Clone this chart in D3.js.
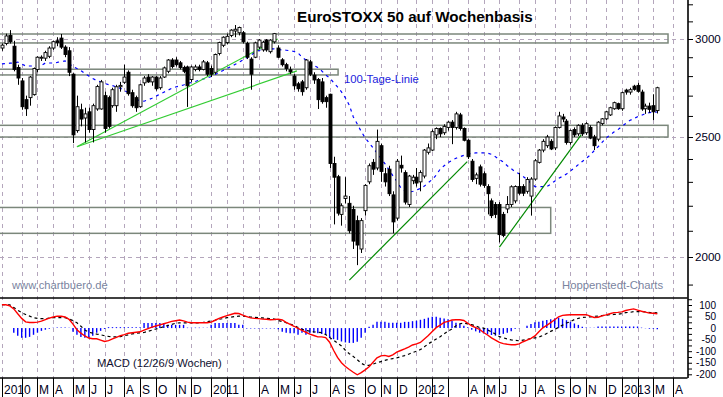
<!DOCTYPE html>
<html>
<head>
<meta charset="utf-8">
<script src="https://d3js.org/d3.v7.min.js"></script>
<style>
  body { margin: 0; background: #fff; }
  #chart { width: 723px; height: 397px; }
  text { font-family: "Liberation Sans", Arial, sans-serif; }
</style>
</head>
<body>
<div id="chart"></div>
<script>
// Weekly candles, first week starts Monday 28 Dec 2009
var firstWeek = "2009-12-28";

var open = [2950,2975,3020,2960,2845,2775,2680,2690,2705,2835,2895,2895,2905,2950,2990,3005,2955,2935,2810,2530,
  2630,2590,2620,2535,2634,2634,2700,2690,2650,2650,2745,2768,2820,2715,2690,2645,2765,2795,2770,2795,
  2740,2795,2825,2885,2885,2870,2845,2848,2782,2835,2848,2835,2870,2840,2820,2920,2965,2980,3020,3045,
  3035,3035,2975,2890,2900,2955,2940,2994,2930,2984,2950,2886,2860,2833,2800,2760,2770,2740,2875,2805,
  2782,2770,2690,2707,2380,2322,2165,2230,2210,2185,2140,2030,2180,2300,2385,2360,2460,2335,2355,2245,
  2150,2372,2340,2205,2305,2320,2300,2325,2430,2440,2510,2540,2520,2545,2570,2545,2605,2540,2485,2390,
  2315,2365,2335,2280,2220,2205,2205,2165,2187,2205,2220,2280,2280,2260,2240,2312,2385,2440,2460,2480,
  2450,2545,2595,2575,2475,2535,2515,2555,2520,2545,2500,2490,2563,2586,2605,2635,2660,2635,2728,2718,
  2748,2752,2718,2635,2648,2650,2626];
var high = [2975,3030,3050,2990,2860,2790,2700,2800,2845,2905,2910,2935,2960,2990,3010,3028,2965,2955,2815,2700,
  2660,2640,2640,2660,2755,2780,2720,2700,2740,2755,2770,2860,2830,2730,2700,2760,2800,2810,2800,2800,
  2800,2850,2890,2895,2900,2880,2855,2855,2855,2860,2860,2885,2880,2855,2920,2985,3015,3030,3055,3079,
  3070,3045,2985,2900,2985,3000,2990,3000,2999,3034,2965,2895,2870,2850,2810,2770,2780,2890,2885,2820,
  2790,2790,2700,2710,2410,2330,2210,2320,2240,2200,2160,2150,2290,2380,2400,2535,2470,2360,2370,2260,
  2400,2415,2350,2330,2330,2360,2350,2445,2470,2535,2545,2545,2560,2575,2580,2620,2615,2545,2490,2400,
  2340,2375,2345,2290,2230,2215,2215,2175,2240,2285,2285,2340,2290,2320,2320,2400,2445,2490,2510,2490,
  2550,2620,2610,2585,2535,2545,2560,2565,2570,2555,2510,2575,2590,2625,2645,2670,2665,2720,2735,2740,
  2755,2765,2730,2660,2665,2707,2745];
var low = [2935,2965,2975,2825,2755,2630,2600,2650,2700,2820,2880,2880,2895,2940,2960,2945,2900,2800,2472,2520,
  2550,2475,2520,2475,2625,2630,2520,2540,2640,2620,2720,2760,2700,2640,2620,2640,2750,2765,2750,2725,
  2730,2790,2815,2840,2850,2835,2815,2644,2770,2825,2825,2830,2800,2795,2810,2910,2955,2970,3010,3010,
  3020,2975,2890,2730,2895,2945,2930,2930,2920,2975,2895,2850,2825,2810,2730,2720,2700,2730,2800,2760,
  2634,2660,2640,2360,2125,2160,2120,2210,2090,2030,1970,2015,2160,2290,2330,2350,2300,2280,2240,2090,
  2140,2340,2205,2195,2290,2280,2260,2315,2420,2435,2490,2500,2510,2530,2467,2535,2530,2480,2400,2300,
  2290,2280,2275,2165,2150,2150,2055,2075,2170,2195,2210,2245,2240,2250,2160,2305,2380,2430,2450,2440,
  2440,2540,2570,2465,2465,2500,2505,2505,2510,2490,2440,2480,2555,2580,2600,2630,2630,2625,2705,2705,
  2725,2715,2625,2610,2615,2580,2612];
var close = [2966,3017,2985,2835,2790,2645,2635,2795,2840,2900,2900,2925,2950,2985,2980,2955,2915,2820,2510,2645,
  2585,2610,2535,2650,2746,2770,2540,2550,2730,2745,2752,2795,2710,2650,2640,2755,2790,2770,2795,2735,
  2790,2843,2885,2850,2860,2845,2825,2750,2848,2848,2835,2875,2810,2810,2915,2980,3010,3015,3050,3055,
  3065,2985,2900,2810,2978,2994,2982,2940,2994,3030,2900,2860,2840,2822,2750,2735,2720,2885,2810,2780,
  2680,2670,2670,2380,2320,2170,2200,2240,2100,2060,2045,2140,2285,2370,2355,2480,2345,2300,2250,2135,
  2390,2360,2215,2325,2320,2295,2340,2440,2450,2525,2540,2515,2550,2570,2545,2610,2540,2485,2410,2310,
  2330,2290,2285,2250,2160,2165,2085,2082,2205,2279,2280,2252,2252,2310,2312,2392,2440,2480,2500,2445,
  2545,2600,2585,2475,2530,2510,2555,2515,2563,2495,2460,2570,2586,2620,2640,2665,2635,2715,2718,2730,
  2732,2722,2634,2648,2632,2620,2740];

// 100-Tage-Linie (about 20 weeks)
var ma100 = [2864,2866,2868,2869,2874,2864,2853,2853,2853,2853,2856,2869,2869,2869,2872,2877,2880,2866,2850,2840,
  2829,2813,2800,2787,2777,2770,2762,2756,2751,2744,2737,2726,2714,2699,2682,2674,2672,2679,2687,2697,
  2707,2717,2727,2737,2744,2749,2754,2762,2767,2772,2780,2785,2790,2798,2808,2819,2829,2840,2850,2861,
  2872,2885,2897,2910,2926,2936,2945,2945,2945,2945,2942,2940,2938,2935,2931,2923,2901,2885,2869,2856,
  2845,2827,2806,2791,2767,2744,2719,2689,2652,2595,2561,2526,2496,2473,2450,2427,2403,2379,2353,2327,
  2303,2276,2263,2257,2259,2265,2272,2282,2297,2310,2329,2355,2370,2383,2394,2403,2410,2416,2423,2425,
  2427,2427,2427,2426,2421,2410,2398,2386,2370,2357,2344,2335,2323,2310,2294,2280,2280,2280,2280,2290,
  2303,2315,2324,2334,2347,2361,2375,2389,2403,2417,2437,2455,2475,2495,2509,2523,2534,2549,2564,2578,
  2587,2596,2603,2612,2616,2618,2619];

// MACD (12/26/9 Wochen)
var macd = [101,101,96,83,62,42,27,24,24,26,30,37,43,48,52,51,48,38,17,-7,
  -22,-34,-43,-46,-46,-52,-58,-54,-47,-40,-33,-28,-22,-20,-18,-16,-9,-2,4,9,
  14,19,24,29,32,35,31,26,23,23,23,23,23,26,34,42,48,54,59,64,
  63,56,50,44,42,41,39,38,36,37,39,35,25,16,8,-1,-10,-18,-26,-32,
  -38,-38,-41,-61,-96,-127,-150,-166,-179,-191,-202,-193,-181,-167,-148,-129,-120,-118,-123,-116,
  -104,-97,-90,-82,-73,-68,-62,-47,-32,-15,2,13,25,29,35,36,36,33,21,10,
  2,-6,-19,-30,-42,-52,-62,-67,-70,-72,-72,-68,-59,-52,-44,-34,-16,1,12,24,
  36,49,55,57,58,58,58,58,58,52,46,47,53,57,62,67,68,70,76,80,
  83,78,73,69,65,64,62];
var signal = [101,101,101,89,77,67,59,52,45,42,41,41,43,45,45,45,45,40,32,23,
  8,-8,-18,-22,-26,-29,-33,-36,-38,-38,-37,-33,-29,-25,-22,-21,-19,-14,-9,-4,
  1,6,11,16,21,23,23,23,23,23,23,25,28,31,34,38,41,45,47,50,
  52,52,50,48,47,45,44,42,41,39,33,28,23,18,12,3,-5,-10,-13,-16,
  -18,-20,-28,-41,-52,-65,-77,-96,-111,-123,-137,-152,-161,-161,-156,-150,-145,-140,-135,-132,
  -129,-124,-119,-113,-106,-100,-93,-81,-68,-58,-47,-37,-25,-13,-4,10,19,22,18,15,
  9,2,0,-8,-16,-26,-37,-42,-47,-51,-53,-55,-52,-49,-45,-42,-39,-32,-23,-14,
  -6,3,13,22,28,37,42,46,47,49,51,52,54,56,58,59,60,63,67,68,
  71,71,71,70,68,67,66];
var hist = [0,0,0,-20,-33,-42,-42,-38,-29,-20,-12,-7,-3,2,3,3,3,2,-16,-29,
  -38,-42,-42,-33,-20,-12,-4,4,4,4,4,4,4,4,4,4,22,22,22,22,
  22,22,14,14,14,14,14,2,2,2,2,2,2,14,22,22,22,22,22,22,
  14,14,-2,-2,-2,-2,-2,-2,-2,-2,-5,-16,-20,-22,-22,-29,-20,-29,-22,-20,
  -22,-25,-29,-42,-48,-51,-58,-62,-64,-64,-59,-42,-20,6,14,27,27,27,23,23,
  23,23,27,27,30,32,36,40,45,49,49,45,42,38,32,23,18,10,4,-7,
  -14,-20,-23,-27,-30,-33,-29,-25,-20,-14,-3,-1,0,10,18,25,27,32,35,38,
  42,45,40,34,27,20,14,6,3,2,2,7,7,7,7,7,7,7,7,7,
  7,7,2,-1,-3,-3,-5];

// month labels below the chart (empty where the reference shows none)
var monthLabels = ["2010","","M","A","M","J","J","A","S","O","N","D",
  "2011","","","A","M","J","J","A","S","O","N","D",
  "2012","","","A","M","J","J","A","S","O","N","D",
  "2013","","M","A"];
var priceTicks = [2000, 2500, 3000];
var macdTicks = [100, 50, 0, -50, -100, -150, -200];

// support / resistance zones: from, to, lower, upper
var zones = [
  ["2009-12-01", "2013-03-23", 2978, 3028],
  ["2009-12-01", "2011-08-16", 2806, 2836],
  ["2009-12-01", "2013-03-23", 2500, 2555],
  ["2009-12-01", "2012-08-27", 2090, 2193]
];
// trend lines
var trendLines = [
  {from: ["2010-05-10", 2455], to: ["2011-05-01", 3000], color: "#3c3"},
  {from: ["2010-05-10", 2455], to: ["2011-06-04", 2827], color: "#3c3"},
  {from: ["2011-09-05", 1916], to: ["2012-04-01", 2388], color: "#080"},
  {from: ["2012-05-28", 2037], to: ["2012-10-20", 2510], color: "#080"}
];

function createChart(divID) {
  var wrapper = document.getElementById(divID);
  var width = 723, height = 397;
  var chart = d3.select(wrapper).append("svg")
      .attr("width", width)
      .attr("height", height);

  var plotRight = 687.5,
      mainBottom = 297.5,
      macdBottom = 378;

  var parseDate = d3.timeParse("%Y-%m-%d");
  var start = parseDate(firstWeek);

  var data = close.map(function(c, i) {
    return {
      date: d3.timeWeek.offset(start, i),
      open: open[i], high: high[i], low: low[i], close: c,
      ma: ma100[i], macd: macd[i], signal: signal[i], hist: hist[i]
    };
  });

  // Scales
  var x = d3.scaleTime()
      .domain([new Date(2010, 4, 3), new Date(2013, 2, 4)])
      .range([73, 657.3]);
  var y = d3.scaleLog().domain([2000, 3000]).range([257, 39]);
  var y2 = d3.scaleLinear().domain([-200, 100]).range([374.3, 305]);

  chart.append("defs").append("clipPath")
      .attr("id", "clipMain")
    .append("rect")
      .attr("width", plotRight).attr("height", mainBottom);

  // month ticks: week that holds the first trading day of the month
  var months = d3.timeMonth.range(new Date(2010, 0, 1), new Date(2013, 4, 1));
  var monthTicks = months.map(function(m) {
    var d = new Date(m);
    while (d.getDay() === 0 || d.getDay() === 6) d = d3.timeDay.offset(d, 1);
    return d3.timeMonday.floor(d);
  });

  // vertical dashed grid
  chart.append("g")
      .selectAll("line")
      .data(monthTicks)
    .enter().append("line")
      .attr("x1", function(d) { return Math.round(x(d)) + 0.5; })
      .attr("x2", function(d) { return Math.round(x(d)) + 0.5; })
      .attr("y1", 0)
      .attr("y2", macdBottom)
      .attr("stroke", "#b4a6bc")
      .attr("stroke-dasharray", "4,4");

  // horizontal dashed grid
  chart.append("g")
      .selectAll("line")
      .data(priceTicks)
    .enter().append("line")
      .attr("x1", 0).attr("x2", plotRight)
      .attr("y1", function(d) { return Math.round(y(d)) + 0.5; })
      .attr("y2", function(d) { return Math.round(y(d)) + 0.5; })
      .attr("stroke", "#b4a6bc")
      .attr("stroke-dasharray", "4,4");

  var main = chart.append("g").attr("clip-path", "url(#clipMain)");

  // zones
  main.append("g")
      .selectAll("rect")
      .data(zones)
    .enter().append("rect")
      .attr("x", function(d) { return x(parseDate(d[0])); })
      .attr("width", function(d) { return x(parseDate(d[1])) - x(parseDate(d[0])); })
      .attr("y", function(d) { return y(d[3]); })
      .attr("height", function(d) { return y(d[2]) - y(d[3]); })
      .attr("fill", "none")
      .attr("stroke", "#7b877b")
      .attr("stroke-width", 1.5);

  // 100 day line
  var maLine = d3.line()
      .x(function(d) { return x(d.date); })
      .y(function(d) { return y(d.ma); });
  main.append("path")
      .datum(data)
      .attr("fill", "none")
      .attr("stroke", "#0000ff")
      .attr("stroke-width", 1.2)
      .attr("stroke-dasharray", "3,4")
      .attr("d", maLine);

  // trend lines
  main.append("g")
      .selectAll("line")
      .data(trendLines)
    .enter().append("line")
      .attr("x1", function(d) { return x(parseDate(d.from[0])); })
      .attr("y1", function(d) { return y(d.from[1]); })
      .attr("x2", function(d) { return x(parseDate(d.to[0])); })
      .attr("y2", function(d) { return y(d.to[1]); })
      .attr("stroke", function(d) { return d.color; })
      .attr("stroke-width", 1.2);

  // candles
  var candles = main.append("g")
      .selectAll("g")
      .data(data)
    .enter().append("g");

  candles.append("line")
      .attr("x1", function(d) { return Math.round(x(d.date)) + 0.5; })
      .attr("x2", function(d) { return Math.round(x(d.date)) + 0.5; })
      .attr("y1", function(d) { return y(d.high); })
      .attr("y2", function(d) { return y(d.low); })
      .attr("stroke", "#000");

  candles.append("rect")
      .attr("x", function(d) { return Math.round(x(d.date)) - 1; })
      .attr("width", 3)
      .attr("y", function(d) { return y(Math.max(d.open, d.close)); })
      .attr("height", function(d) { return Math.max(1, Math.abs(y(d.open) - y(d.close))); })
      .attr("fill", function(d) { return d.close >= d.open ? "#fff" : "#000"; })
      .attr("stroke", "#000")
      .attr("stroke-width", 0.9);

  // MACD panel
  var macdG = chart.append("g");

  macdG.append("g")
      .selectAll("line")
      .data(data)
    .enter().append("line")
      .attr("x1", function(d) { return x(d.date); })
      .attr("x2", function(d) { return x(d.date); })
      .attr("y1", y2(0))
      .attr("y2", function(d) { return y2(d.hist); })
      .attr("stroke", "#0000ff")
      .attr("stroke-width", 1.4);

  var signalLine = d3.line()
      .x(function(d) { return x(d.date); })
      .y(function(d) { return y2(d.signal); });
  macdG.append("path")
      .datum(data)
      .attr("fill", "none")
      .attr("stroke", "#000")
      .attr("stroke-width", 1.2)
      .attr("stroke-dasharray", "3,3")
      .attr("d", signalLine);

  var macdLine = d3.line()
      .x(function(d) { return x(d.date); })
      .y(function(d) { return y2(d.macd); });
  macdG.append("path")
      .datum(data)
      .attr("fill", "none")
      .attr("stroke", "#ff0000")
      .attr("stroke-width", 1.4)
      .attr("d", macdLine);

  // panel borders
  chart.append("line")
      .attr("x1", 0).attr("x2", plotRight)
      .attr("y1", mainBottom + 0.5).attr("y2", mainBottom + 0.5)
      .attr("stroke", "#000").attr("stroke-width", 1.6);
  chart.append("line")
      .attr("x1", 0).attr("x2", plotRight)
      .attr("y1", macdBottom).attr("y2", macdBottom)
      .attr("stroke", "#000").attr("stroke-width", 1.6);
  chart.append("line")
      .attr("x1", plotRight + 0.5).attr("x2", plotRight + 0.5)
      .attr("y1", 0).attr("y2", macdBottom)
      .attr("stroke", "#000").attr("stroke-width", 1.6);

  // right price axis
  var yAxis = d3.axisRight(y)
      .tickValues(d3.range(1900, 3300, 100))
      .tickSize(5)
      .tickFormat(function(d) { return priceTicks.indexOf(d) >= 0 ? d : ""; });
  chart.append("g")
      .attr("class", "axis axis--y")
      .attr("transform", "translate(" + (plotRight + 0.5) + ",0)")
      .call(yAxis)
      .call(function(g) {
        g.select(".domain").remove();
        g.selectAll("line").attr("stroke", "#000");
        g.selectAll("text")
          .attr("x", 7)
          .attr("font-size", "11.6px")
          .attr("font-family", "Liberation Sans, Arial, sans-serif")
          .attr("fill", "#000020");
      });

  // right MACD axis
  var yAxis2 = d3.axisRight(y2)
      .tickValues(d3.range(-200, 126, 25))
      .tickSize(4)
      .tickFormat(function(d) { return macdTicks.indexOf(d) >= 0 ? d : ""; });
  chart.append("g")
      .attr("class", "axis axis--y2")
      .attr("transform", "translate(" + (plotRight + 0.5) + ",0)")
      .call(yAxis2)
      .call(function(g) {
        g.select(".domain").remove();
        g.selectAll("line").attr("stroke", "#000");
        g.selectAll("text")
          .attr("x", 28)
          .attr("text-anchor", "end")
          .attr("font-size", "10px")
          .attr("font-family", "Liberation Sans, Arial, sans-serif")
          .attr("fill", "#000020");
      });

  // bottom month axis
  var xAxis = chart.append("g").attr("class", "axis axis--x");
  xAxis.selectAll("line")
      .data(monthTicks)
    .enter().append("line")
      .attr("x1", function(d) { return Math.round(x(d)) + 0.5; })
      .attr("x2", function(d) { return Math.round(x(d)) + 0.5; })
      .attr("y1", macdBottom)
      .attr("y2", height)
      .attr("stroke", "#000");
  xAxis.selectAll("text")
      .data(monthTicks)
    .enter().append("text")
      .attr("x", function(d) { return Math.round(x(d)) + 2; })
      .attr("y", 393.5)
      .attr("font-size", "12px")
      .attr("fill", "#000020")
      .text(function(d, i) { return monthLabels[i]; });

  // texts
  chart.append("text")
      .attr("x", 297).attr("y", 22)
      .attr("font-size", "15.2px")
      .attr("font-weight", "bold")
      .attr("fill", "#000")
      .text("EuroSTOXX 50 auf Wochenbasis");
  chart.append("text")
      .attr("x", 344).attr("y", 83)
      .attr("font-size", "11.3px")
      .attr("fill", "#2222dd")
      .text("100-Tage-Linie");
  chart.append("text")
      .attr("x", 12).attr("y", 289)
      .attr("font-size", "11.2px")
      .attr("fill", "#7a84a0")
      .text("www.chartbuero.de");
  chart.append("text")
      .attr("x", 562).attr("y", 289)
      .attr("font-size", "11.3px")
      .attr("fill", "#7a84a0")
      .text("Hoppenstedt-Charts");
  chart.append("text")
      .attr("x", 97).attr("y", 367)
      .attr("font-size", "11.2px")
      .attr("fill", "#101030")
      .text("MACD (12/26/9 Wochen)");
}

createChart("chart");
</script>
</body>
</html>
